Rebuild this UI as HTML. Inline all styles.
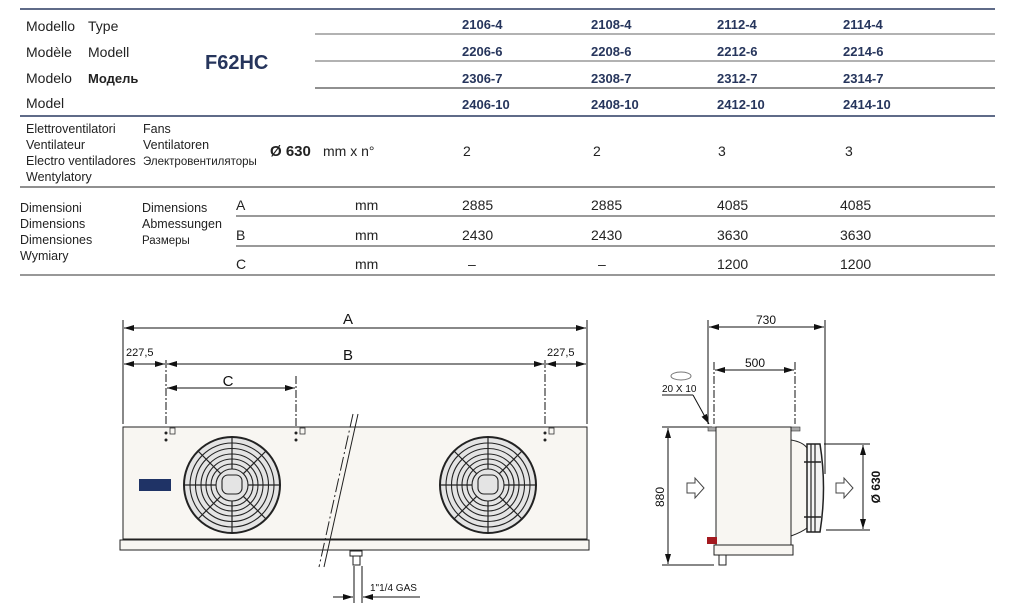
<!DOCTYPE html>
<html><head><meta charset="utf-8"><style>
html,body{margin:0;padding:0;background:#fff;}
body{width:1014px;height:613px;overflow:hidden;position:relative;font-family:"Liberation Sans","DejaVu Sans",sans-serif;}
svg{position:absolute;left:0;top:0;}
</style></head><body>
<svg width="1014" height="613" viewBox="0 0 1014 613" xmlns="http://www.w3.org/2000/svg" font-family="Liberation Sans, DejaVu Sans, sans-serif">
<defs>
<marker id="ar" viewBox="0 0 10 6" refX="10" refY="3" markerWidth="10" markerHeight="6" orient="auto-start-reverse" markerUnits="userSpaceOnUse"><path d="M0,0 L10,3 L0,6 Z" fill="#111"/></marker>
</defs>
<line x1="20" y1="9" x2="995" y2="9" stroke="#2a3a60" stroke-width="1.5"/>
<line x1="315" y1="34" x2="995" y2="34" stroke="#666" stroke-width="1"/>
<line x1="315" y1="61" x2="995" y2="61" stroke="#666" stroke-width="1"/>
<line x1="315" y1="88" x2="995" y2="88" stroke="#222" stroke-width="1"/>
<line x1="20" y1="116" x2="995" y2="116" stroke="#2a3a60" stroke-width="1.5"/>
<line x1="20" y1="187" x2="995" y2="187" stroke="#222" stroke-width="1"/>
<line x1="236" y1="216" x2="995" y2="216" stroke="#333" stroke-width="1"/>
<line x1="236" y1="246" x2="995" y2="246" stroke="#333" stroke-width="1"/>
<line x1="20" y1="275" x2="995" y2="275" stroke="#777" stroke-width="1.5"/>
<g font-size="14" fill="#222">
<text x="26" y="31">Modello</text><text x="88" y="31">Type</text>
<text x="26" y="57">Modèle</text><text x="88" y="57">Modell</text>
<text x="26" y="83">Modelo</text><text x="88" y="83" font-weight="bold" font-size="13">Модель</text>
<text x="26" y="108">Model</text>
</g>
<text x="205" y="69" font-size="20" font-weight="bold" fill="#26355c">F62HC</text>
<g font-size="13" font-weight="bold" fill="#26355c">
<text x="462" y="29">2106-4</text><text x="591" y="29">2108-4</text><text x="717" y="29">2112-4</text><text x="843" y="29">2114-4</text>
<text x="462" y="56">2206-6</text><text x="591" y="56">2208-6</text><text x="717" y="56">2212-6</text><text x="843" y="56">2214-6</text>
<text x="462" y="83">2306-7</text><text x="591" y="83">2308-7</text><text x="717" y="83">2312-7</text><text x="843" y="83">2314-7</text>
<text x="462" y="109">2406-10</text><text x="591" y="109">2408-10</text><text x="717" y="109">2412-10</text><text x="843" y="109">2414-10</text>
</g>
<g font-size="12.5" fill="#222">
<text x="26" y="133">Elettroventilatori</text><text x="143" y="133">Fans</text>
<text x="26" y="149">Ventilateur</text><text x="143" y="149">Ventilatoren</text>
<text x="26" y="165">Electro ventiladores</text><text x="143" y="165" font-size="11.5">Электровентиляторы</text>
<text x="26" y="181">Wentylatory</text>
</g>
<text x="270" y="156" font-size="15" font-weight="bold" fill="#222">Ø 630</text>
<text x="323" y="156" font-size="14" fill="#222">mm x n°</text>
<g font-size="14" fill="#222">
<text x="463" y="156">2</text><text x="593" y="156">2</text><text x="718" y="156">3</text><text x="845" y="156">3</text>
</g>
<g font-size="12.5" fill="#222">
<text x="20" y="212">Dimensioni</text><text x="142" y="212">Dimensions</text>
<text x="20" y="228">Dimensions</text><text x="142" y="228">Abmessungen</text>
<text x="20" y="244">Dimensiones</text><text x="142" y="244" font-size="11.5">Размеры</text>
<text x="20" y="260">Wymiary</text>
</g>
<g font-size="14" fill="#222">
<text x="236" y="210">A</text><text x="236" y="240">B</text><text x="236" y="269">C</text>
<text x="355" y="210">mm</text><text x="355" y="240">mm</text><text x="355" y="269">mm</text>
<text x="462" y="210">2885</text><text x="591" y="210">2885</text><text x="717" y="210">4085</text><text x="840" y="210">4085</text>
<text x="462" y="240">2430</text><text x="591" y="240">2430</text><text x="717" y="240">3630</text><text x="840" y="240">3630</text>
<text x="468" y="269">–</text><text x="598" y="269">–</text><text x="717" y="269">1200</text><text x="840" y="269">1200</text>
</g>

<g stroke="#111" fill="none" stroke-width="1">
<line x1="123" y1="320" x2="123" y2="424"/><line x1="587" y1="320" x2="587" y2="424"/>
<line x1="124" y1="328" x2="586" y2="328" marker-start="url(#ar)" marker-end="url(#ar)"/>
<line x1="124" y1="364" x2="165" y2="364" marker-start="url(#ar)" marker-end="url(#ar)"/>
<line x1="167" y1="364" x2="544" y2="364" marker-start="url(#ar)" marker-end="url(#ar)"/>
<line x1="546" y1="364" x2="586" y2="364" marker-start="url(#ar)" marker-end="url(#ar)"/>
<line x1="167" y1="388" x2="295" y2="388" marker-start="url(#ar)" marker-end="url(#ar)"/>
<line x1="166" y1="360" x2="166" y2="426" stroke-dasharray="8,2,2,2"/>
<line x1="296" y1="376" x2="296" y2="426" stroke-dasharray="8,2,2,2"/>
<line x1="545" y1="360" x2="545" y2="426" stroke-dasharray="8,2,2,2"/>
</g>
<text x="348" y="324" font-size="15" text-anchor="middle" fill="#111">A</text>
<text x="348" y="360" font-size="15" text-anchor="middle" fill="#111">B</text>
<text x="228" y="386" font-size="15" text-anchor="middle" fill="#111">C</text>
<text x="126" y="356" font-size="11" fill="#111">227,5</text>
<text x="547" y="356" font-size="11" fill="#111">227,5</text>
<rect x="123" y="427" width="464" height="112" fill="#f8f6f2" stroke="#222" stroke-width="1"/>
<rect x="120" y="540" width="469" height="10" fill="#f8f6f2" stroke="#222" stroke-width="1"/>
<rect x="139" y="479" width="32" height="12" fill="#1f3366"/>
<g fill="#222">
<circle cx="166" cy="433" r="1.5"/><circle cx="166" cy="440" r="1.5"/>
<circle cx="296" cy="433" r="1.5"/><circle cx="296" cy="440" r="1.5"/>
<circle cx="545" cy="433" r="1.5"/><circle cx="545" cy="440" r="1.5"/>
</g>
<g fill="none" stroke="#333" stroke-width="0.8">
<rect x="170" y="428" width="5" height="6"/><rect x="300" y="428" width="5" height="6"/><rect x="549" y="428" width="5" height="6"/>
</g>
<g id="fan" fill="none" stroke="#222">
<circle cx="232" cy="485" r="48" fill="#e4e4e4" stroke-width="2"/>
<circle cx="232" cy="485" r="42" stroke-width="1.1"/>
<circle cx="232" cy="485" r="36.5" stroke-width="1.1"/>
<circle cx="232" cy="485" r="31" stroke-width="1.1"/>
<circle cx="232" cy="485" r="26" stroke-width="1.1"/>
<circle cx="232" cy="485" r="21" stroke-width="1.1"/>
<line x1="232" y1="437" x2="232" y2="533" stroke-width="1.2"/>
<line x1="184" y1="485" x2="280" y2="485" stroke-width="1.2"/>
<line x1="198" y1="451" x2="266" y2="519" stroke-width="1.2"/>
<line x1="266" y1="451" x2="198" y2="519" stroke-width="1.2"/>
<circle cx="232" cy="485" r="16" fill="#e4e4e4" stroke-width="1.1"/>
<rect x="222" y="475" width="20" height="19" rx="6" fill="#e4e4e4" stroke-width="1.1"/>
</g>
<use href="#fan" transform="translate(256,0)"/>
<g stroke="#222" fill="none" stroke-width="1">
<line x1="358" y1="414" x2="324" y2="567"/>
<line x1="353" y1="414" x2="319" y2="567" stroke-dasharray="14,3,2,3"/>
</g>
<rect x="350" y="551" width="12" height="5" fill="#fff" stroke="#222"/>
<rect x="353" y="556" width="7" height="9" fill="#fff" stroke="#222"/>
<g stroke="#111" fill="none" stroke-width="1">
<line x1="354" y1="566" x2="354" y2="603"/><line x1="362" y1="566" x2="362" y2="603"/>
<line x1="333" y1="597" x2="353" y2="597" marker-end="url(#ar)"/>
<line x1="420" y1="597" x2="363" y2="597" marker-end="url(#ar)"/>
</g>
<text x="370" y="591" font-size="10" fill="#111">1"1/4 GAS</text>

<g stroke="#111" fill="none" stroke-width="1">
<line x1="708" y1="320" x2="708" y2="424"/>
<line x1="825" y1="320" x2="825" y2="474"/>
<line x1="709" y1="327" x2="824" y2="327" marker-start="url(#ar)" marker-end="url(#ar)"/>
<line x1="714" y1="362" x2="714" y2="424" stroke-dasharray="8,2,2,2"/>
<line x1="795" y1="362" x2="795" y2="424" stroke-dasharray="8,2,2,2"/>
<line x1="715" y1="370" x2="794" y2="370" marker-start="url(#ar)" marker-end="url(#ar)"/>
<line x1="662" y1="427" x2="712" y2="427"/>
<line x1="662" y1="565" x2="714" y2="565"/>
<line x1="668" y1="428" x2="668" y2="564" marker-start="url(#ar)" marker-end="url(#ar)"/>
<line x1="824" y1="444" x2="870" y2="444"/>
<line x1="826" y1="530" x2="870" y2="530"/>
<line x1="863" y1="445" x2="863" y2="529" marker-start="url(#ar)" marker-end="url(#ar)"/>
<line x1="662" y1="395" x2="693" y2="395"/>
<line x1="693" y1="395" x2="709" y2="424" marker-end="url(#ar)"/>
</g>
<ellipse cx="681" cy="376" rx="10" ry="4" fill="none" stroke="#777"/>
<text x="662" y="392" font-size="10" fill="#111">20 X 10</text>
<text x="766" y="324" font-size="12" text-anchor="middle" fill="#111">730</text>
<text x="755" y="367" font-size="12" text-anchor="middle" fill="#111">500</text>
<text transform="translate(664,497) rotate(-90)" font-size="12" text-anchor="middle" fill="#111">880</text>
<text transform="translate(880,487) rotate(-90)" font-size="12" font-weight="bold" text-anchor="middle" fill="#111">Ø 630</text>
<rect x="708" y="427" width="8" height="4" fill="#aaa" stroke="#333" stroke-width="0.6"/>
<rect x="791" y="427" width="9" height="4" fill="#aaa" stroke="#333" stroke-width="0.6"/>
<path d="M791,440 Q803,442 807,448 L807,528 Q802,532 791,536 Z" fill="#f8f6f2" stroke="#222"/>
<rect x="716" y="427" width="75" height="118" fill="#f8f6f2" stroke="#222"/>
<rect x="714" y="545" width="79" height="10" fill="#f8f6f2" stroke="#222"/>
<rect x="707" y="537" width="10" height="7" fill="#a3191f"/>
<rect x="719" y="555" width="7" height="10" fill="#fff" stroke="#222"/>
<path d="M807,444 L820,444 Q827,488 820,532 L807,532 Z" fill="#f4f4f4" stroke="#222" stroke-width="1.5"/>
<line x1="811" y1="444" x2="811" y2="532" stroke="#222" stroke-width="1.2"/>
<line x1="815" y1="444" x2="815" y2="532" stroke="#222" stroke-width="1.2"/>
<line x1="804" y1="462" x2="821" y2="462" stroke="#222" stroke-width="1.5"/>
<line x1="804" y1="517" x2="821" y2="517" stroke="#222" stroke-width="1.5"/>
<path d="M687,483 L695,483 L695,478 L704,488 L695,498 L695,493 L687,493 Z" fill="#fff" stroke="#444"/>
<path d="M836,483 L844,483 L844,478 L853,488 L844,498 L844,493 L836,493 Z" fill="#fff" stroke="#444"/>
</svg>
</body></html>
